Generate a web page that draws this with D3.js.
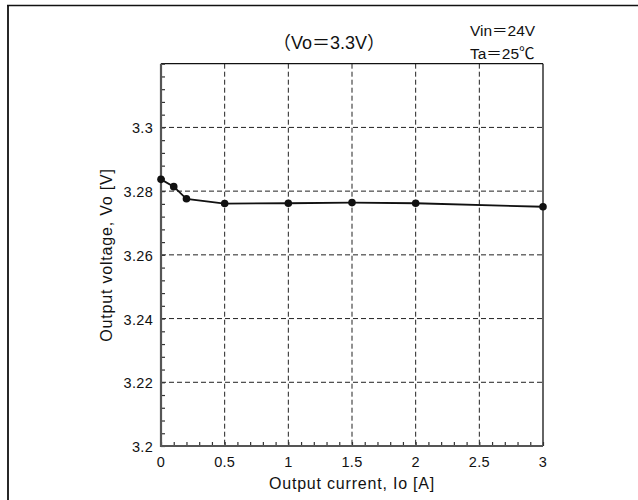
<!DOCTYPE html>
<html>
<head>
<meta charset="utf-8">
<script src="https://cdn.jsdelivr.net/npm/d3@7/dist/d3.min.js"></script>
<style>
  html, body { margin: 0; padding: 0; background: #fff; }
  svg text { font-family: "Liberation Sans", Arial, "Noto Sans CJK JP", sans-serif; fill: #111; }
</style>
</head>
<body>
<svg id="chart" width="638" height="500"></svg>
<script>
// Load regulation: output voltage vs output current
const currents = [0, 0.1, 0.2, 0.5, 1, 1.5, 2, 3];
const voltages = [3.2837, 3.2814, 3.2776, 3.2761, 3.2762, 3.2764, 3.2762, 3.2751];
const xTicks = [0, 0.5, 1, 1.5, 2, 2.5, 3];
const xTickLabels = ["0", "0.5", "1", "1.5", "2", "2.5", "3"];
const yTicks = [3.2, 3.22, 3.24, 3.26, 3.28, 3.3];
const yTickLabels = ["3.2", "3.22", "3.24", "3.26", "3.28", "3.3"];
const titleText = "（Vo＝3.3V）";
const conditions = ["Vin＝24V", "Ta＝25℃"];

const svg = d3.select("#chart");
const m = { left: 161, right: 543, top: 63.7, bottom: 446 };

const x = d3.scaleLinear().domain([0, 3]).range([m.left, m.right]);
const y = d3.scaleLinear().domain([3.2, 3.32]).range([m.bottom, m.top]);

// outer frame (left and top edges)
svg.append("line").attr("x1", 8).attr("x2", 8).attr("y1", 5).attr("y2", 500)
  .attr("stroke", "#111").attr("stroke-width", 1.8);
svg.append("line").attr("x1", 7).attr("x2", 638).attr("y1", 5.5).attr("y2", 5.5)
  .attr("stroke", "#111").attr("stroke-width", 1.6);

// dashed grid
const grid = svg.append("g").attr("stroke", "#222").attr("stroke-width", 1)
  .attr("stroke-dasharray", "5,3");
grid.selectAll("line.v").data(xTicks.filter(d => d > 0 && d < 3)).join("line")
  .attr("x1", d => x(d)).attr("x2", d => x(d))
  .attr("y1", m.top).attr("y2", m.bottom);
grid.selectAll("line.h").data(yTicks.filter(d => d > 3.2)).join("line")
  .attr("y1", d => y(d)).attr("y2", d => y(d))
  .attr("x1", m.left).attr("x2", m.right);

// top and right frame edges
svg.append("line").attr("x1", m.left).attr("x2", m.right).attr("y1", m.top).attr("y2", m.top)
  .attr("stroke", "#111").attr("stroke-width", 1.3);
svg.append("line").attr("x1", m.right).attr("x2", m.right).attr("y1", m.top).attr("y2", m.bottom)
  .attr("stroke", "#111").attr("stroke-width", 1.3);

// minor ticks pointing inward
const xMinor = d3.range(0, 31).map(i => i / 10);
const yMinor = d3.range(0, 31).map(i => 3.2 + i * 0.004);

const xAxis = d3.axisBottom(x).tickValues(xMinor).tickSize(-4).tickFormat("");
const gx = svg.append("g").attr("transform", `translate(0,${m.bottom})`).call(xAxis);
gx.select(".domain").remove();
gx.selectAll(".tick line").attr("stroke", "#333").attr("stroke-width", 1.2);

const yAxis = d3.axisLeft(y).tickValues(yMinor).tickSize(-4).tickFormat("");
const gy = svg.append("g").attr("transform", `translate(${m.left},0)`).call(yAxis);
gy.select(".domain").remove();
gy.selectAll(".tick line").attr("stroke", "#333").attr("stroke-width", 1.2);

// bottom and left axis lines
svg.append("line").attr("x1", m.left - 1).attr("x2", m.right).attr("y1", m.bottom).attr("y2", m.bottom)
  .attr("stroke", "#555").attr("stroke-width", 2.2);
svg.append("line").attr("x1", m.left).attr("x2", m.left).attr("y1", m.top).attr("y2", m.bottom + 1)
  .attr("stroke", "#555").attr("stroke-width", 2.2);

// tick labels
svg.append("g").selectAll("text").data(xTicks).join("text")
  .attr("x", d => x(d)).attr("y", m.bottom + 21)
  .attr("text-anchor", "middle").attr("font-size", 14.5).attr("letter-spacing", 0.3)
  .text((d, i) => xTickLabels[i]);
svg.append("g").selectAll("text").data(yTicks).join("text")
  .attr("x", m.left - 8).attr("y", d => y(d) + 6)
  .attr("text-anchor", "end").attr("font-size", 14.5).attr("letter-spacing", 0.3)
  .text((d, i) => yTickLabels[i]);

// axis titles
svg.append("text").attr("x", 352).attr("y", 489).attr("text-anchor", "middle")
  .attr("font-size", 16).attr("letter-spacing", 0.8).text("Output current, Io [A]");
svg.append("text").attr("transform", "translate(112,255) rotate(-90)")
  .attr("text-anchor", "middle").attr("font-size", 16).attr("letter-spacing", 0.8)
  .text("Output voltage, Vo [V]");

// titles
svg.append("text").attr("x", 329).attr("y", 49).attr("text-anchor", "middle")
  .attr("font-size", 18).text(titleText);
svg.selectAll("text.cond").data(conditions).join("text")
  .attr("class", "cond").attr("x", 470).attr("y", (d, i) => 36 + i * 23)
  .attr("font-size", 15.5).text(d => d);

// data line and markers
const line = d3.line().x((d, i) => x(currents[i])).y(d => y(d));
svg.append("path").datum(voltages).attr("d", line)
  .attr("fill", "none").attr("stroke", "#111").attr("stroke-width", 1.8);
svg.append("g").selectAll("circle").data(voltages).join("circle")
  .attr("cx", (d, i) => x(currents[i])).attr("cy", d => y(d)).attr("r", 3.8)
  .attr("fill", "#111");
</script>
</body>
</html>
